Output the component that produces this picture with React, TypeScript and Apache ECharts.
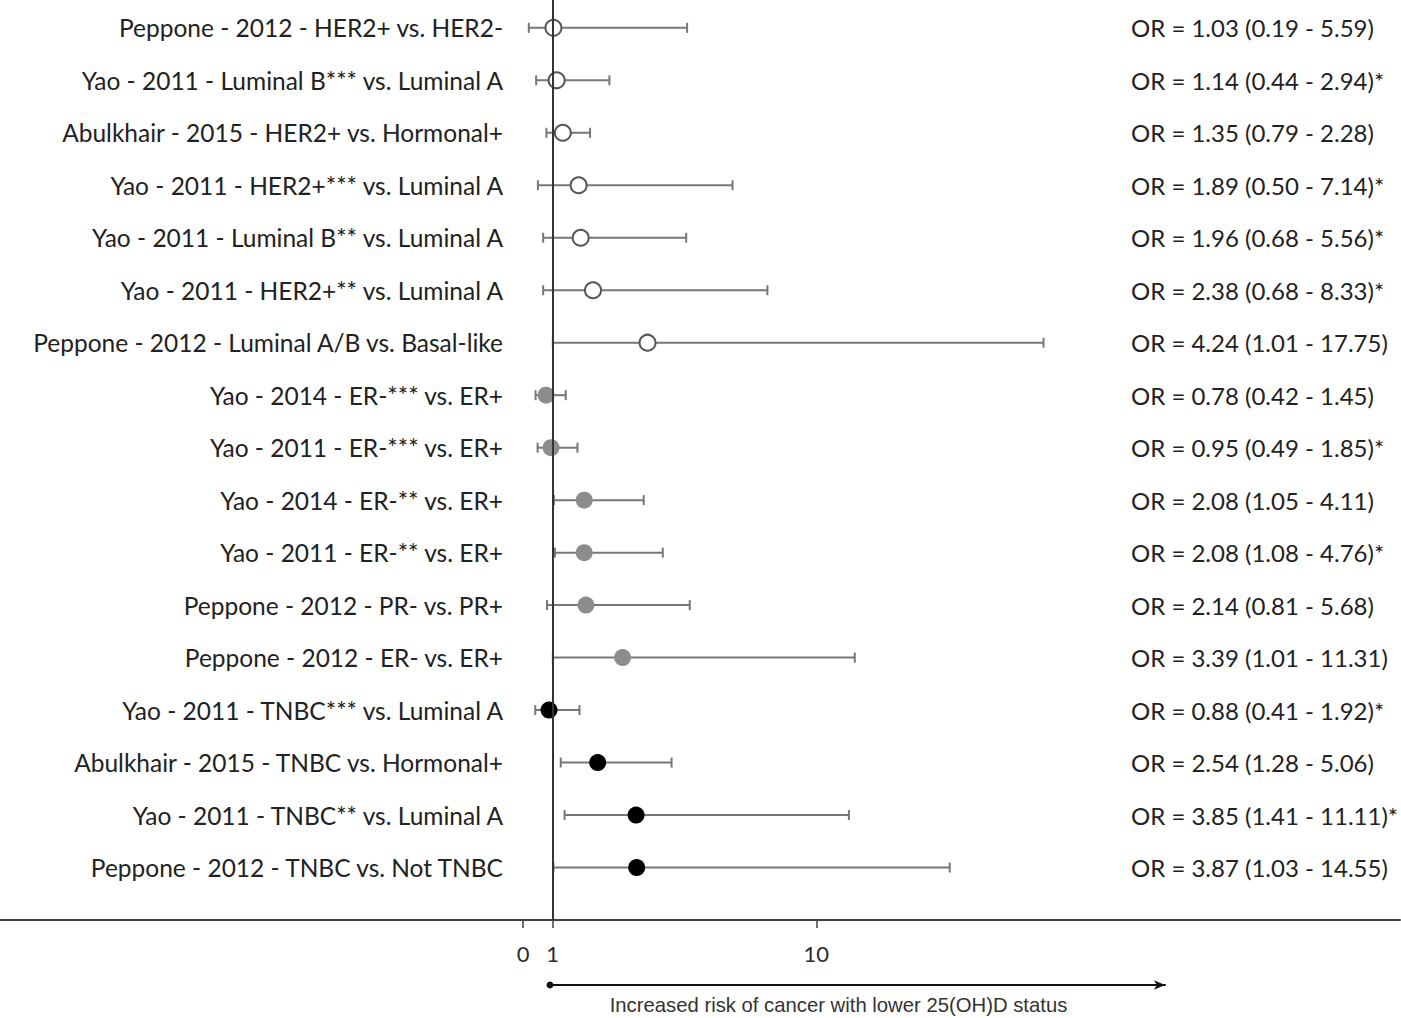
import React, { useEffect, useRef } from "react";
import * as echarts from "echarts";

// ---- Data ----
const studyLabels: string[] = [
  "Peppone - 2012 - HER2+ vs. HER2-",
  "Yao - 2011 - Luminal B*** vs. Luminal A",
  "Abulkhair - 2015 - HER2+ vs. Hormonal+",
  "Yao - 2011 - HER2+*** vs. Luminal A",
  "Yao - 2011 - Luminal B** vs. Luminal A",
  "Yao - 2011 - HER2+** vs. Luminal A",
  "Peppone - 2012 - Luminal A/B vs. Basal-like",
  "Yao - 2014 - ER-*** vs. ER+",
  "Yao - 2011 - ER-*** vs. ER+",
  "Yao - 2014 - ER-** vs. ER+",
  "Yao - 2011 - ER-** vs. ER+",
  "Peppone - 2012 - PR- vs. PR+",
  "Peppone - 2012 - ER- vs. ER+",
  "Yao - 2011 - TNBC*** vs. Luminal A",
  "Abulkhair - 2015 - TNBC vs. Hormonal+",
  "Yao - 2011 - TNBC** vs. Luminal A",
  "Peppone - 2012 - TNBC vs. Not TNBC",
];

const oddsRatio: number[] = [1.03, 1.14, 1.35, 1.89, 1.96, 2.38, 4.24, 0.78, 0.95, 2.08, 2.08, 2.14, 3.39, 0.88, 2.54, 3.85, 3.87];
const ciLower: number[] = [0.19, 0.44, 0.79, 0.5, 0.68, 0.68, 1.01, 0.42, 0.49, 1.05, 1.08, 0.81, 1.01, 0.41, 1.28, 1.41, 1.03];
const ciUpper: number[] = [5.59, 2.94, 2.28, 7.14, 5.56, 8.33, 17.75, 1.45, 1.85, 4.11, 4.76, 5.68, 11.31, 1.92, 5.06, 11.11, 14.55];
const orLabels: string[] = [
  "OR = 1.03 (0.19 - 5.59)",
  "OR = 1.14 (0.44 - 2.94)*",
  "OR = 1.35 (0.79 - 2.28)",
  "OR = 1.89 (0.50 - 7.14)*",
  "OR = 1.96 (0.68 - 5.56)*",
  "OR = 2.38 (0.68 - 8.33)*",
  "OR = 4.24 (1.01 - 17.75)",
  "OR = 0.78 (0.42 - 1.45)",
  "OR = 0.95 (0.49 - 1.85)*",
  "OR = 2.08 (1.05 - 4.11)",
  "OR = 2.08 (1.08 - 4.76)*",
  "OR = 2.14 (0.81 - 5.68)",
  "OR = 3.39 (1.01 - 11.31)",
  "OR = 0.88 (0.41 - 1.92)*",
  "OR = 2.54 (1.28 - 5.06)",
  "OR = 3.85 (1.41 - 11.11)*",
  "OR = 3.87 (1.03 - 14.55)",
];
// group of each row: 0 = open (subtype), 1 = grey (receptor), 2 = black (TNBC)
const groupOf: number[] = [0, 0, 0, 0, 0, 0, 0, 1, 1, 1, 1, 1, 1, 2, 2, 2, 2];
const xTickValues: number[] = [0, 1, 10];
const axisTitle = "Increased risk of cancer with lower 25(OH)D status";

const rowIdx = studyLabels.map((_, i) => i);

export default function App() {
  const ref = useRef<HTMLDivElement>(null);
  useEffect(() => {
    if (!ref.current) return;
    const chart = echarts.init(ref.current, undefined, { renderer: "svg" });
    const font = "Lato, 'Open Sans', sans-serif";
    const errData = rowIdx.map((i) => [ciLower[i], ciUpper[i], i]);
    const pts = (g: number) => rowIdx.filter((i) => groupOf[i] === g).map((i) => [oddsRatio[i], i]);

    chart.setOption({
      animation: false,
      backgroundColor: "#ffffff",
      grid: [
        { left: 0, right: 0, top: 0, height: 920 },
        { left: 550, width: 615, top: 984, height: 1 },
      ],
      xAxis: [
        {
          type: "value",
          gridIndex: 0,
          min: -17.85,
          max: 29.91,
          splitLine: { show: false },
          axisLine: { onZero: false, lineStyle: { color: "#404040", width: 2 } },
          axisTick: { customValues: xTickValues, length: 8, lineStyle: { color: "#404040", width: 1.5 } },
          axisLabel: {
            customValues: xTickValues,
            margin: 22,
            fontSize: 22,
            color: "#2b2b2b",
            fontFamily: font,
          },
        },
        {
          type: "value",
          gridIndex: 1,
          min: 0,
          max: 1,
          splitLine: { show: false },
          axisTick: { show: false },
          axisLabel: { show: false },
          axisLine: {
            onZero: false,
            symbol: ["circle", "arrow"],
            symbolSize: [7, 11],
            lineStyle: { color: "#111", width: 2 },
          },
          name: axisTitle,
          nameLocation: "middle",
          nameGap: 10,
          nameTextStyle: {
            fontSize: 20.3,
            color: "#333",
            fontFamily: "'Liberation Sans', Arial, sans-serif",
            verticalAlign: "top",
            padding: [0, 38, 0, 0],
          },
        },
      ],
      yAxis: [
        {
          type: "value",
          gridIndex: 0,
          inverse: true,
          min: -0.53,
          max: 17,
          position: "left",
          offset: -503,
          splitLine: { show: false },
          axisLine: { show: false, onZero: false },
          axisTick: { show: false },
          axisLabel: {
            customValues: rowIdx,
            formatter: (v: number) => studyLabels[Math.round(v)] ?? "",
            margin: 0,
            fontSize: 24.5,
            color: "#222",
            fontFamily: font,
          },
        },
        {
          type: "value",
          gridIndex: 0,
          inverse: true,
          min: -0.53,
          max: 17,
          position: "right",
          offset: -269,
          splitLine: { show: false },
          axisLine: { show: false, onZero: false },
          axisTick: { show: false },
          axisLabel: {
            customValues: rowIdx,
            formatter: (v: number) => orLabels[Math.round(v)] ?? "",
            margin: 0,
            fontSize: 24,
            color: "#222",
            fontFamily: font,
          },
        },
        {
          type: "value",
          gridIndex: 1,
          show: false,
          min: 0,
          max: 1,
        },
      ],
      series: [
        {
          type: "custom",
          xAxisIndex: 0,
          yAxisIndex: 0,
          z: 2,
          encode: { x: [0, 1], y: 2 },
          data: errData,
          renderItem: (params: any, api: any) => {
            const lo = api.coord([api.value(0), api.value(2)]);
            const hi = api.coord([api.value(1), api.value(2)]);
            const cap = 5;
            const st = { stroke: "#777", lineWidth: 2 };
            return {
              type: "group",
              children: [
                { type: "line", shape: { x1: lo[0], y1: lo[1], x2: hi[0], y2: hi[1] }, style: st },
                { type: "line", shape: { x1: lo[0], y1: lo[1] - cap, x2: lo[0], y2: lo[1] + cap }, style: st },
                { type: "line", shape: { x1: hi[0], y1: hi[1] - cap, x2: hi[0], y2: hi[1] + cap }, style: st },
              ],
            };
          },
          markLine: {
            silent: true,
            symbol: ["none", "none"],
            label: { show: false },
            lineStyle: { color: "#333", width: 2, type: "solid" },
            data: [{ xAxis: 1 }],
          },
        },
        {
          type: "scatter",
          xAxisIndex: 0,
          yAxisIndex: 0,
          z: 3,
          symbol: "circle",
          symbolSize: 16,
          itemStyle: { color: "#ffffff", borderColor: "#555", borderWidth: 2, opacity: 1 },
          data: pts(0),
        },
        {
          type: "scatter",
          xAxisIndex: 0,
          yAxisIndex: 0,
          z: 3,
          symbol: "circle",
          symbolSize: 17,
          itemStyle: { color: "#8c8c8c", opacity: 1 },
          data: pts(1),
        },
        {
          type: "scatter",
          xAxisIndex: 0,
          yAxisIndex: 0,
          z: 3,
          symbol: "circle",
          symbolSize: 17,
          itemStyle: { color: "#000000", opacity: 1 },
          data: pts(2),
        },
      ],
    });
    return () => chart.dispose();
  }, []);
  return (
    <div
      ref={ref}
      style={{ position: "fixed", left: 0, top: 0, width: 1401, height: 1018, background: "#fff" }}
    />
  );
}
